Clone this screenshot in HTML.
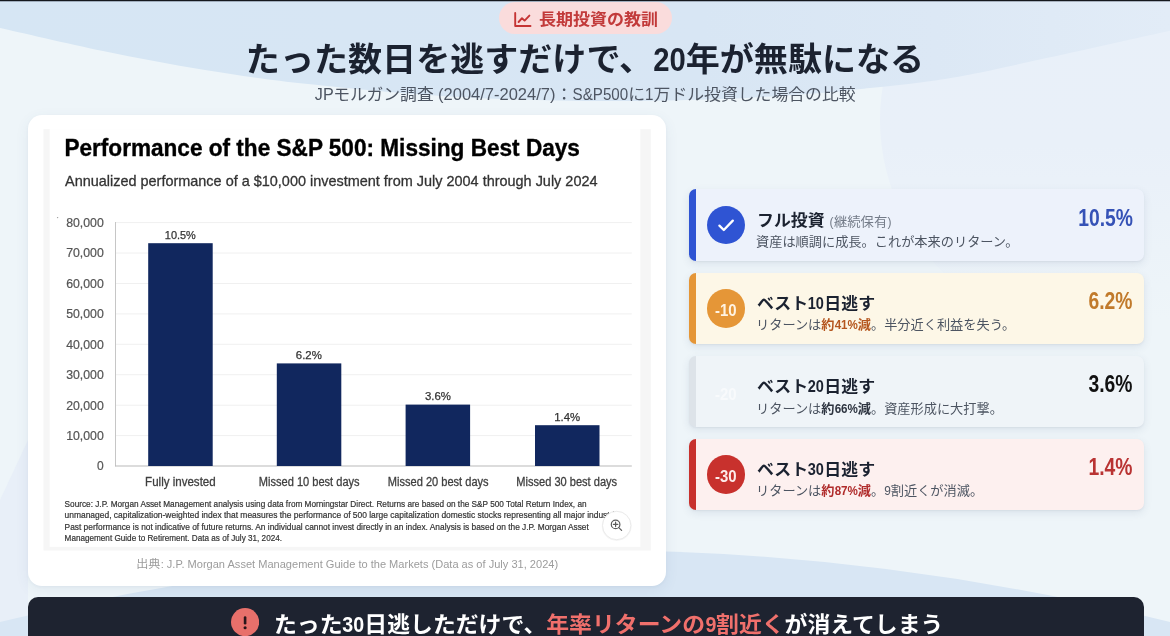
<!DOCTYPE html>
<html lang="ja"><head><meta charset="utf-8">
<title>長期投資の教訓</title>
<style>
*{box-sizing:border-box;margin:0;padding:0}
html,body{width:1170px;height:636px;overflow:hidden;background:#eef5f9}
body{position:relative;font-family:"Liberation Sans","Noto Sans CJK JP",sans-serif;color:#1a202c}
.abs{position:absolute;white-space:nowrap}
.l{display:inline-block;font-style:normal;white-space:nowrap;transform:scaleX(var(--s));transform-origin:0 50%}
#bg{position:absolute;left:0;top:0;width:1170px;height:636px}
#topline{position:absolute;left:0;top:0;width:1170px;height:1px;background:#15181d;box-shadow:0 1px 0 rgba(20,30,45,.28)}
#pill{left:499px;top:2px;width:173px;height:32px;border-radius:16px;background:#fadcdc}
#pilltxt{left:539.3px;top:3.4px;height:32px;line-height:32px;font-size:16.43px;font-weight:700;color:#c23a3a;transform:scaleX(1.035);transform-origin:0 50%}
#title{left:0;width:1170px;text-align:center;top:37.4px;height:46px;line-height:46px;font-size:32.92px;font-weight:700;color:#1b2230;transform:scaleX(1.035);transform-origin:50% 50%}
#subtitle{left:0;width:1170px;text-align:center;top:81.9px;height:24px;line-height:24px;font-size:16.28px;color:#4d5562;transform:scaleX(1.035);transform-origin:50% 50%}
#card{left:28px;top:114.5px;width:638px;height:471px;border-radius:14px;background:#fff;box-shadow:0 4px 14px rgba(60,90,130,.08),0 1px 3px rgba(60,90,130,.05)}
#caption{left:28px;width:638px;text-align:center;top:555px;height:18px;line-height:18px;font-size:11.7px;color:#9c9c9c;transform:scaleX(1.035);transform-origin:50% 50%}
#chart{position:absolute;left:0;top:0;width:1170px;height:636px}
.rc{position:absolute;left:688.6px;width:455.8px;height:71.6px;border-radius:7px;border-left:7px solid;box-shadow:0 3px 8px rgba(50,70,110,.10),0 1px 2px rgba(50,70,110,.06)}
.rc .ci{position:absolute;left:11.3px;top:16.9px;width:38.2px;height:38.2px;border-radius:50%;color:#fff;font-weight:700;font-size:15.6px;line-height:43px;text-align:center}
.rc .t{left:61.6px;top:18.7px;height:24px;line-height:24px;font-size:16.35px;font-weight:700;color:#1b2230;transform:scaleX(1.035);transform-origin:0 50%}
.rc .t small{font-size:12.9px;font-weight:400;color:#737b88;margin-left:5px}
.rc .s{left:60.8px;top:42.8px;height:20px;line-height:20px;font-size:12.75px;color:#4d5562;transform:scaleX(1.035);transform-origin:0 50%}
.rc .s b{font-weight:700}
.rc .v{right:12px;top:14.7px;height:28px;line-height:28px;font-size:23.2px;font-weight:700;text-align:right;transform:scaleX(1.035);transform-origin:100% 50%}
#bar{left:28px;top:596.7px;width:1116.3px;height:60px;border-radius:10px 10px 0 0;background:#1e2330}
#bartxt{left:274.4px;top:609.9px;height:30px;line-height:30px;font-size:22.09px;font-weight:700;color:#fff;transform:scaleX(1.035);transform-origin:0 50%}
#bartxt em{font-style:normal;color:#f0706c}
</style></head>
<body>
<svg id="bg" viewBox="0 0 1170 636">
<defs><linearGradient id="tg" x1="0" x2="1" y1="0" y2="0"><stop offset="0" stop-color="#d6e6f4"></stop><stop offset=".6" stop-color="#d8e6f4"></stop><stop offset=".8" stop-color="#dce8f5"></stop><stop offset="1" stop-color="#e2ecf7"></stop></linearGradient><linearGradient id="eg" x1="0" x2="0" y1="0" y2="1"><stop offset="0" stop-color="#e8f0f9"></stop><stop offset=".55" stop-color="#e9f0f9"></stop><stop offset=".9" stop-color="#eef5f9"></stop></linearGradient></defs><ellipse cx="1182" cy="120" rx="302" ry="250" fill="url(#eg)"></ellipse><path d="M0,500 L28,440 V636 H0 Z" fill="#e8eff8"></path>
<path fill="url(#tg)" d="M0,0 H1170 V30.8 L1170.0,30.8 C1154.6,34.2 1110.2,44.2 1077.7,51.3 C1045.2,58.4 1000.6,68.4 975.0,73.5 C949.4,78.6 941.5,79.6 924.0,82.0 C906.5,84.4 887.3,86.2 870.0,88.0 C852.7,89.8 845.0,91.2 820.0,93.0 C795.0,94.8 759.2,97.7 720.0,99.0 C680.8,100.3 630.0,101.4 585.0,101.0 C540.0,100.6 496.2,99.3 450.0,96.5 C403.8,93.7 348.8,88.4 308.0,84.0 C267.2,79.6 239.2,75.5 205.0,70.0 C170.8,64.5 137.2,58.0 103.0,51.0 C68.8,44.0 17.2,31.8 0,28 Z"></path>
<path fill="#d8e6f4" d="M0,636 V621.9 Q585,478.1 1170,621.9 V636 Z"></path>
</svg>
<div id="topline"></div>

<div id="pill" class="abs"></div>
<svg class="abs" style="left:513.5px;top:11.5px" width="18" height="16" viewBox="0 0 18 16"><path d="M1.2,1 V14 H16.5" fill="none" stroke="#c53434" stroke-width="1.9" stroke-linecap="round" stroke-linejoin="round"></path><path d="M4.6,10 L8,6.2 L10.6,8.6 L15.4,3.6" fill="none" stroke="#c53434" stroke-width="1.9" stroke-linecap="round" stroke-linejoin="round"></path></svg>
<div id="pilltxt" class="abs">長期投資の教訓</div>

<div id="title" class="abs">たった数日を逃すだけで、<i class="l" style="--s: .86; margin-right: -5.18px;">20</i>年が無駄になる</div>
<div id="subtitle" class="abs"><i class="l" style="--s: .96; margin-right: -0.76px;">JP</i>モルガン調査 <i class="l" style="--s: .98; margin-right: -2.32px;">(2004/7-2024/7)</i>：<i class="l" style="--s: .9; margin-right: -6px;">S&amp;P500</i>に<i class="l" style="--s: .9; margin-right: -0.9px;">1</i>万ドル投資した場合の比較</div>

<div id="card" class="abs"></div>
<svg id="chart" viewBox="0 0 1170 636" font-family="'Liberation Sans',sans-serif">
<!-- image frame -->
<rect x="43.5" y="129.2" width="607.3" height="421.3" fill="#f6f6f6"></rect>
<rect x="49.6" y="129.2" width="590.8" height="417.6" fill="#fff"></rect>
<text x="64.4" y="156" font-size="23" font-weight="700" fill="#000" stroke="#000" stroke-width=".35" textLength="515.5" lengthAdjust="spacingAndGlyphs">Performance of the S&amp;P 500: Missing Best Days</text>
<text x="65" y="186" font-size="15" fill="#333" stroke="#333" stroke-width=".3" textLength="532.5" lengthAdjust="spacingAndGlyphs">Annualized performance of a $10,000 investment from July 2004 through July 2024</text>
<g stroke="#f0f0f0" stroke-width="1">
<path d="M115.5,222.6H631.8M115.5,253H631.8M115.5,283.5H631.8M115.5,313.9H631.8M115.5,344.3H631.8M115.5,374.7H631.8M115.5,405.2H631.8M115.5,435.6H631.8"></path>
</g>
<circle cx="57.6" cy="217.6" r=".7" fill="#999"></circle><path d="M115.5,222 V466.3" stroke="#c6c6c6" stroke-width="1" fill="none"></path>
<path d="M115,466 H631.8" stroke="#b9b9b9" stroke-width="1.2" fill="none"></path>
<g font-size="12" fill="#555" stroke="#555" stroke-width=".2" text-anchor="end">
<text x="103.8" y="226.9" textLength="37.6" lengthAdjust="spacingAndGlyphs">80,000</text>
<text x="103.8" y="257.3" textLength="37.6" lengthAdjust="spacingAndGlyphs">70,000</text>
<text x="103.8" y="287.8" textLength="37.6" lengthAdjust="spacingAndGlyphs">60,000</text>
<text x="103.8" y="318.2" textLength="37.6" lengthAdjust="spacingAndGlyphs">50,000</text>
<text x="103.8" y="348.6" textLength="37.6" lengthAdjust="spacingAndGlyphs">40,000</text>
<text x="103.8" y="379" textLength="37.6" lengthAdjust="spacingAndGlyphs">30,000</text>
<text x="103.8" y="409.5" textLength="37.6" lengthAdjust="spacingAndGlyphs">20,000</text>
<text x="103.8" y="439.9" textLength="37.6" lengthAdjust="spacingAndGlyphs">10,000</text>
<text x="103.8" y="470.3">0</text>
</g>
<g fill="#11275e">
<rect x="148.2" y="243.2" width="64.5" height="222.8"></rect>
<rect x="276.8" y="363.4" width="64.5" height="102.6"></rect>
<rect x="405.6" y="404.6" width="64.5" height="61.4"></rect>
<rect x="535" y="425.2" width="64.5" height="40.8"></rect>
</g>
<g font-size="11.5" fill="#333" text-anchor="middle" stroke="#333" stroke-width=".25">
<text x="180.3" y="238.8" textLength="31" lengthAdjust="spacingAndGlyphs">10.5%</text>
<text x="308.8" y="359" textLength="26" lengthAdjust="spacingAndGlyphs">6.2%</text>
<text x="438" y="400" textLength="26" lengthAdjust="spacingAndGlyphs">3.6%</text>
<text x="567.2" y="420.7" textLength="26" lengthAdjust="spacingAndGlyphs">1.4%</text>
</g>
<g font-size="12.5" fill="#3f3f3f" stroke="#3f3f3f" stroke-width=".3" text-anchor="middle">
<text x="180.4" y="485.6" textLength="70.6" lengthAdjust="spacingAndGlyphs">Fully invested</text>
<text x="309.2" y="485.6" textLength="100.8" lengthAdjust="spacingAndGlyphs">Missed 10 best days</text>
<text x="438.2" y="485.6" textLength="100.8" lengthAdjust="spacingAndGlyphs">Missed 20 best days</text>
<text x="566.7" y="485.6" textLength="100.8" lengthAdjust="spacingAndGlyphs">Missed 30 best days</text>
</g>
<g font-size="9" fill="#333" stroke="#333" stroke-width=".2">
<text x="64.6" y="507.3" textLength="522" lengthAdjust="spacingAndGlyphs">Source: J.P. Morgan Asset Management analysis using data from Morningstar Direct. Returns are based on the S&amp;P 500 Total Return Index, an</text>
<text x="64.6" y="518.3" textLength="561" lengthAdjust="spacingAndGlyphs">unmanaged, capitalization-weighted index that measures the performance of 500 large capitalization domestic stocks representing all major industries.</text>
<text x="64.6" y="529.8" textLength="524.2" lengthAdjust="spacingAndGlyphs">Past performance is not indicative of future returns. An individual cannot invest directly in an index. Analysis is based on the J.P. Morgan Asset</text>
<text x="64.6" y="540.7" textLength="217.4" lengthAdjust="spacingAndGlyphs">Management Guide to Retirement. Data as of July 31, 2024.</text>
</g>
<!-- zoom button -->
<circle cx="616.7" cy="526" r="15" fill="#000" opacity=".04"></circle>
<circle cx="616.7" cy="525.5" r="14.2" fill="#fff" stroke="#ebebeb" stroke-width="1"></circle>
<g fill="none" stroke="#5a5a5a" stroke-width="1.2" stroke-linecap="round">
<circle cx="615.6" cy="524.4" r="4.3"></circle>
<path d="M618.8,527.6 L621.6,530.4M613.4,524.4H617.8M615.6,522.2V526.6"></path>
</g>
</svg>
<div id="caption" class="abs">出典<i class="l" style="--s: .914; margin-right: -36.12px;">: J.P. Morgan Asset Management Guide to the Markets (Data as of July 31, 2024)</i></div>

<!-- right cards -->
<div class="rc" style="top:189.4px;background:#edf2fb;border-color:#2f54d3">
  <div class="ci" style="background:#2f54d3"><svg width="38" height="38" viewBox="0 0 38 38" style="display:block"><path d="M12.4,19.6 L16.8,24 L25.8,14.6" fill="none" stroke="#fff" stroke-width="2.3" stroke-linecap="round" stroke-linejoin="round"></path></svg></div>
  <div class="t abs">フル投資<small><i class="l" style="--s: .9; margin-right: -0.4px;">(</i>継続保有<i class="l" style="--s: .9; margin-right: -0.4px;">)</i></small></div>
  <div class="s abs">資産は順調に成長。これが本来のリターン。</div>
  <div class="v abs" style="color:#3552b6"><i class="l" style="--s: .805; margin-right: -12.87px;">10.5%</i></div>
</div>
<div class="rc" style="top:272.6px;background:#fdf7e7;border-color:#e59637">
  <div class="ci" style="background:#e59637;color:#fff3e2"><i class="l" style="--s: .96; margin-right: -0.92px;">-10</i></div>
  <div class="t abs">ベスト<i class="l" style="--s: .86; margin-right: -2.52px;">10</i>日逃す</div>
  <div class="s abs">リターンは<b style="color:#b5561f">約<i class="l" style="--s: .88; margin-right: -3.12px;">41%</i>減</b>。半分近く利益を失う。</div>
  <div class="v abs" style="color:#c17a2b"><i class="l" style="--s: .805; margin-right: -10.33px;">6.2%</i></div>
</div>
<div class="rc" style="top:355.8px;background:#eff4f8;border-color:#dde3e9">
  <div class="ci" style="background:#eff4f8;color:#f8fafc"><i class="l" style="--s: .96; margin-right: -0.92px;">-20</i></div>
  <div class="t abs">ベスト<i class="l" style="--s: .86; margin-right: -2.52px;">20</i>日逃す</div>
  <div class="s abs">リターンは<b style="color:#2d3440">約<i class="l" style="--s: .88; margin-right: -3.12px;">66%</i>減</b>。資産形成に大打撃。</div>
  <div class="v abs" style="color:#111"><i class="l" style="--s: .805; margin-right: -10.33px;">3.6%</i></div>
</div>
<div class="rc" style="top:438.6px;background:#fdf0ef;border-color:#c8312d">
  <div class="ci" style="background:#c8312d;color:#fdeceb"><i class="l" style="--s: .96; margin-right: -0.92px;">-30</i></div>
  <div class="t abs">ベスト<i class="l" style="--s: .86; margin-right: -2.52px;">30</i>日逃す</div>
  <div class="s abs">リターンは<b style="color:#b02c2c">約<i class="l" style="--s: .88; margin-right: -3.12px;">87%</i>減</b>。<i class="l" style="--s: .9; margin-right: -0.7px;">9</i>割近くが消滅。</div>
  <div class="v abs" style="color:#b93333"><i class="l" style="--s: .805; margin-right: -10.33px;">1.4%</i></div>
</div>

<!-- bottom bar -->
<div id="bar" class="abs"></div>
<svg class="abs" style="left:230.7px;top:608.2px" width="28.2" height="28.2" viewBox="0 0 28 28"><circle cx="14" cy="14" r="14" fill="#e8706b"></circle><path d="M14,9.5 V15.1" stroke="#2a161b" stroke-width="2.6" stroke-linecap="round"></path><circle cx="14" cy="19.6" r="1.55" fill="#2a161b"></circle></svg>
<div id="bartxt" class="abs">たった<i class="l" style="--s: .86; margin-right: -3.5px;">30</i>日逃しただけで、<em>年率リターンの<i class="l" style="--s: .86; margin-right: -1.68px;">9</i>割近く</em>が消えてしまう</div>

</body></html>
